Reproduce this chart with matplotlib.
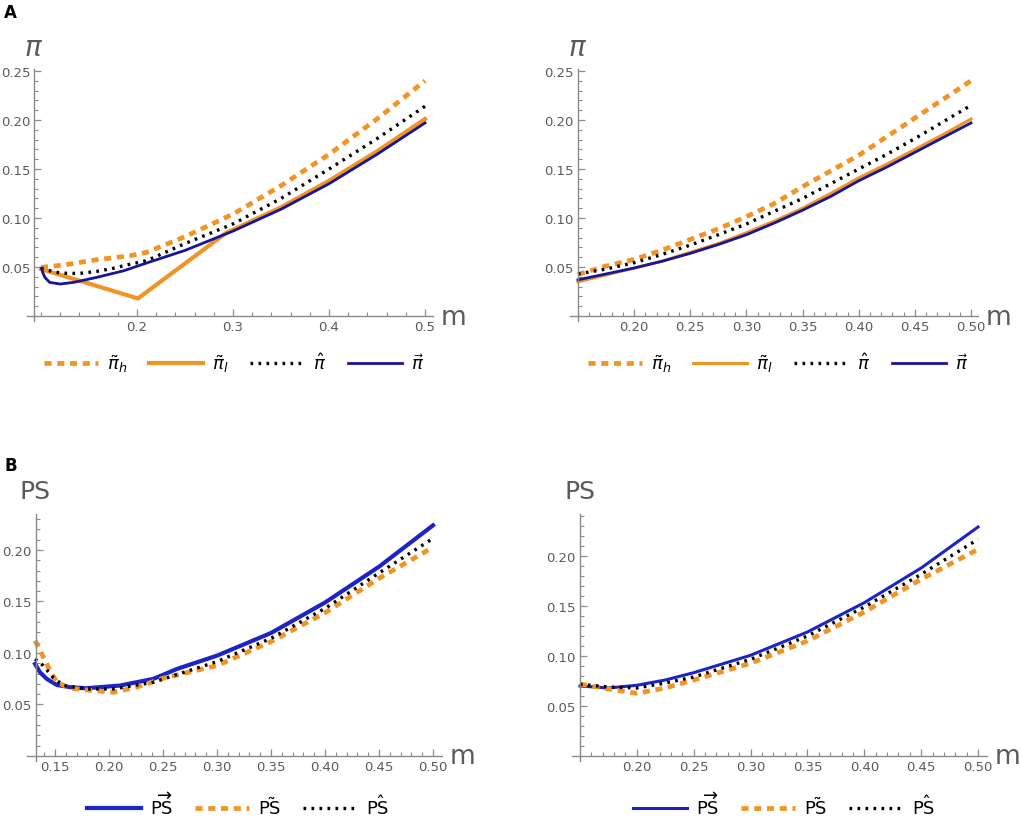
import numpy as np
import matplotlib
matplotlib.use('Agg')
import matplotlib.pyplot as plt
from matplotlib.ticker import FixedLocator

plt.rcParams['font.family'] = ['DejaVu Sans']
plt.rcParams['mathtext.fontset'] = 'dejavusans'

# ========================================
# データ
# ========================================
# --- Panel A left: m in [0.1, 0.5]
a1_m_h = [0.100, 0.123, 0.158, 0.193, 0.210, 0.25, 0.30, 0.35, 0.40, 0.45, 0.50]
a1_pi_h = [0.0497, 0.052, 0.0575, 0.0616, 0.065, 0.081, 0.104, 0.133, 0.165, 0.201, 0.240]

a1_m_l = [0.100, 0.201, 0.293, 0.30, 0.35, 0.40, 0.45, 0.50]
a1_pi_l = [0.048, 0.018, 0.085, 0.088, 0.111, 0.138, 0.168, 0.201]

a1_m_hat = [0.100, 0.106, 0.116, 0.128, 0.141, 0.158, 0.175, 0.193, 0.210, 0.25, 0.30, 0.35, 0.40, 0.45, 0.50]
a1_pi_hat = [0.0487, 0.0470, 0.0446, 0.0435, 0.0436, 0.0456, 0.0487, 0.053, 0.0565, 0.074, 0.094, 0.120, 0.150, 0.181, 0.214]

a1_m_vec = [0.1005, 0.102, 0.104, 0.109, 0.120, 0.134, 0.158, 0.186, 0.212, 0.25, 0.30, 0.35, 0.40, 0.45, 0.50]
a1_pi_vec = [0.0487, 0.044, 0.0395, 0.0344, 0.0327, 0.0344, 0.0395, 0.0462, 0.0548, 0.067, 0.0867, 0.109, 0.135, 0.165, 0.197]

# --- Panel A right: m in [0.15, 0.5]
a2_m = [0.15, 0.175, 0.20, 0.225, 0.25, 0.275, 0.30, 0.325, 0.35, 0.375, 0.40, 0.425, 0.45, 0.475, 0.50]
a2_pi_h = [0.0425, 0.051, 0.0578, 0.0673, 0.0782, 0.0891, 0.1014, 0.115, 0.132, 0.148, 0.164, 0.183, 0.202, 0.221, 0.240]
a2_pi_l = [0.035, 0.042, 0.049, 0.056, 0.065, 0.074, 0.085, 0.097, 0.110, 0.125, 0.141, 0.155, 0.170, 0.185, 0.201]
a2_pi_hat = [0.043, 0.048, 0.0544, 0.063, 0.0724, 0.083, 0.094, 0.107, 0.120, 0.135, 0.150, 0.165, 0.181, 0.198, 0.215]
a2_pi_vec = [0.037, 0.043, 0.049, 0.056, 0.064, 0.073, 0.083, 0.095, 0.108, 0.122, 0.138, 0.152, 0.167, 0.182, 0.197]

# --- Panel B left: m in [0.1324, 0.5]
b1_m_vec = [0.1315, 0.136, 0.1423, 0.1516, 0.164, 0.179, 0.21, 0.241, 0.263, 0.30, 0.35, 0.40, 0.45, 0.50]
b1_ps_vec = [0.0893, 0.0812, 0.0748, 0.0689, 0.0667, 0.0657, 0.0683, 0.0748, 0.0845, 0.0974, 0.1194, 0.149, 0.1838, 0.224]

b1_m_til = [0.1315, 0.1368, 0.1454, 0.1516, 0.164, 0.1855, 0.204, 0.2256, 0.25, 0.30, 0.35, 0.40, 0.45, 0.50]
b1_ps_til = [0.112, 0.101, 0.0828, 0.0715, 0.0657, 0.0634, 0.0618, 0.0667, 0.0754, 0.0877, 0.111, 0.139, 0.1725, 0.2026]

b1_m_hat = [0.1315, 0.139, 0.148, 0.1577, 0.179, 0.204, 0.241, 0.30, 0.35, 0.40, 0.45, 0.50]
b1_ps_hat = [0.0942, 0.0877, 0.0764, 0.0683, 0.065, 0.065, 0.0715, 0.0916, 0.1142, 0.1433, 0.1777, 0.2113]

# --- Panel B right: m in [0.15, 0.5]
b2_m = [0.15, 0.175, 0.20, 0.225, 0.25, 0.30, 0.35, 0.40, 0.45, 0.50]
b2_ps_vec = [0.070, 0.068, 0.0707, 0.076, 0.0833, 0.1007, 0.124, 0.1533, 0.188, 0.229]
b2_ps_til = [0.072, 0.067, 0.0627, 0.068, 0.076, 0.0927, 0.115, 0.144, 0.1767, 0.2067]
b2_ps_hat = [0.0717, 0.069, 0.068, 0.073, 0.079, 0.0967, 0.120, 0.149, 0.1817, 0.2167]

# ========================================
# スタイル
# ========================================
ORANGE = '#F29325'
NAVY = '#16169a'
BLUE = '#1c24c4'
AXC = '#8a8a8a'
TXC = '#5a5a5a'

W, H = 1021, 828
fig = plt.figure(figsize=(W / 100, H / 100), dpi=100)


def make_axes(px_left, px_right, px_top, px_bottom):
    return fig.add_axes([px_left / W, 1 - px_bottom / H,
                         (px_right - px_left) / W, (px_bottom - px_top) / H])


def style_axes(ax, xlim, ylim, x0, xmaj, xmin, ymaj, ymin, xfmt):
    ax.set_xlim(*xlim)
    ax.set_ylim(*ylim)
    for s in ['top', 'right']:
        ax.spines[s].set_visible(False)
    ax.spines['left'].set_position(('data', x0))
    ax.spines['bottom'].set_position(('data', 0))
    for s in ['left', 'bottom']:
        ax.spines[s].set_color(AXC)
        ax.spines[s].set_linewidth(1.0)
    ax.xaxis.set_major_locator(FixedLocator(xmaj))
    ax.xaxis.set_minor_locator(FixedLocator(xmin))
    ax.yaxis.set_major_locator(FixedLocator(ymaj))
    ax.yaxis.set_minor_locator(FixedLocator(ymin))
    ax.set_xticklabels([xfmt.format(v) for v in xmaj])
    ax.set_yticklabels(['{:.2f}'.format(v) for v in ymaj])
    ax.tick_params(which='both', direction='in', colors=AXC, labelcolor=TXC,
                   labelsize=9.5, pad=3)
    ax.tick_params(which='major', length=5, width=0.9)
    ax.tick_params(which='minor', length=3, width=0.8)
    ax.patch.set_alpha(0)


dash = (0, (1.5, 1.2))
dots = (0, (0.8, 1.6))

# ========================================
# Panel A left
# ========================================
ax1 = make_axes(27, 433, 70, 322)
ax1.plot(a1_m_h, a1_pi_h, color=ORANGE, lw=3.4, ls=dash, label=r'$\tilde{\pi}_h$')
ax1.plot(a1_m_l, a1_pi_l, color=ORANGE, lw=3.0, label=r'$\tilde{\pi}_l$')
ax1.plot(a1_m_hat, a1_pi_hat, color='black', lw=2.4, ls=dots, label=r'$\hat{\pi}$')
ax1.plot(a1_m_vec, a1_pi_vec, color=NAVY, lw=2.0, label=r'$\vec{\pi}$')
style_axes(ax1, (0.0854, 0.5083), (-0.005, 0.252), 0.093,
           [0.2, 0.3, 0.4, 0.5], list(np.arange(0.10, 0.501, 0.02)),
           [0.05, 0.10, 0.15, 0.20, 0.25], list(np.arange(0.01, 0.251, 0.01)),
           '{:.1f}')

# ========================================
# Panel A right
# ========================================
ax2 = make_axes(570, 978, 70, 322)
ax2.plot(a2_m, a2_pi_h, color=ORANGE, lw=3.4, ls=dash, label=r'$\tilde{\pi}_h$')
ax2.plot(a2_m, a2_pi_l, color=ORANGE, lw=2.2, label=r'$\tilde{\pi}_l$')
ax2.plot(a2_m, a2_pi_hat, color='black', lw=2.4, ls=dots, label=r'$\hat{\pi}$')
ax2.plot(a2_m, a2_pi_vec, color=NAVY, lw=2.0, label=r'$\vec{\pi}$')
style_axes(ax2, (0.1429, 0.5062), (-0.005, 0.252), 0.15,
           [0.20, 0.25, 0.30, 0.35, 0.40, 0.45, 0.50], list(np.arange(0.15, 0.501, 0.01)),
           [0.05, 0.10, 0.15, 0.20, 0.25], list(np.arange(0.01, 0.251, 0.01)),
           '{:.2f}')

# ========================================
# Panel B left
# ========================================
ax3 = make_axes(27, 442, 515, 762)
ax3.plot(b1_m_vec, b1_ps_vec, color=BLUE, lw=3.0, label=r'$\overrightarrow{\mathrm{PS}}$')
ax3.plot(b1_m_til, b1_ps_til, color=ORANGE, lw=3.4, ls=dash, label=r'$\tilde{\mathrm{PS}}$')
ax3.plot(b1_m_hat, b1_ps_hat, color='black', lw=2.4, ls=dots, label=r'$\hat{\mathrm{PS}}$')
style_axes(ax3, (0.124, 0.5083), (-0.005, 0.235), 0.1324,
           [0.15, 0.20, 0.25, 0.30, 0.35, 0.40, 0.45, 0.50], list(np.arange(0.14, 0.501, 0.01)),
           [0.05, 0.10, 0.15, 0.20], list(np.arange(0.01, 0.231, 0.01)),
           '{:.2f}')

# ========================================
# Panel B right
# ========================================
ax4 = make_axes(572, 987, 515, 762)
ax4.plot(b2_m, b2_ps_vec, color=BLUE, lw=2.2, label=r'$\overrightarrow{\mathrm{PS}}$')
ax4.plot(b2_m, b2_ps_til, color=ORANGE, lw=3.4, ls=dash, label=r'$\tilde{\mathrm{PS}}$')
ax4.plot(b2_m, b2_ps_hat, color='black', lw=2.4, ls=dots, label=r'$\hat{\mathrm{PS}}$')
style_axes(ax4, (0.143, 0.5079), (-0.005, 0.242), 0.15,
           [0.20, 0.25, 0.30, 0.35, 0.40, 0.45, 0.50], list(np.arange(0.15, 0.501, 0.01)),
           [0.05, 0.10, 0.15, 0.20], list(np.arange(0.01, 0.241, 0.01)),
           '{:.2f}')

# ========================================
# 軸ラベル・凡例
# ========================================
def ftext(px, py, s, **kw):
    fig.text(px / W, 1 - py / H, s, **kw)

ftext(34, 48, r'$\pi$', fontsize=20, color=TXC, ha='center', va='center')
ftext(578, 48, r'$\pi$', fontsize=20, color=TXC, ha='center', va='center')
ftext(453, 318, 'm', fontsize=19, color=TXC, ha='center', va='center')
ftext(998, 318, 'm', fontsize=19, color=TXC, ha='center', va='center')
ftext(35, 492, 'PS', fontsize=18, color=TXC, ha='center', va='center')
ftext(580, 492, 'PS', fontsize=18, color=TXC, ha='center', va='center')
ftext(462, 757, 'm', fontsize=19, color=TXC, ha='center', va='center')
ftext(1007, 757, 'm', fontsize=19, color=TXC, ha='center', va='center')
ftext(4, 13, 'A', fontsize=12, fontweight='bold', color='black', ha='left', va='center')
ftext(4, 466, 'B', fontsize=12, fontweight='bold', color='black', ha='left', va='center')

for ax, (cx, cy) in [(ax1, (234, 364)), (ax2, (778, 364)), (ax3, (238, 806)), (ax4, (784, 806))]:
    h, l = ax.get_legend_handles_labels()
    fig.legend(h, l, loc='center', bbox_to_anchor=(cx / W, 1 - cy / H),
               ncol=len(h), frameon=False, fontsize=13, handlelength=3.0,
               handletextpad=0.5, columnspacing=1.2)

plt.savefig('out.png', dpi=100)
print("saved out.png")
